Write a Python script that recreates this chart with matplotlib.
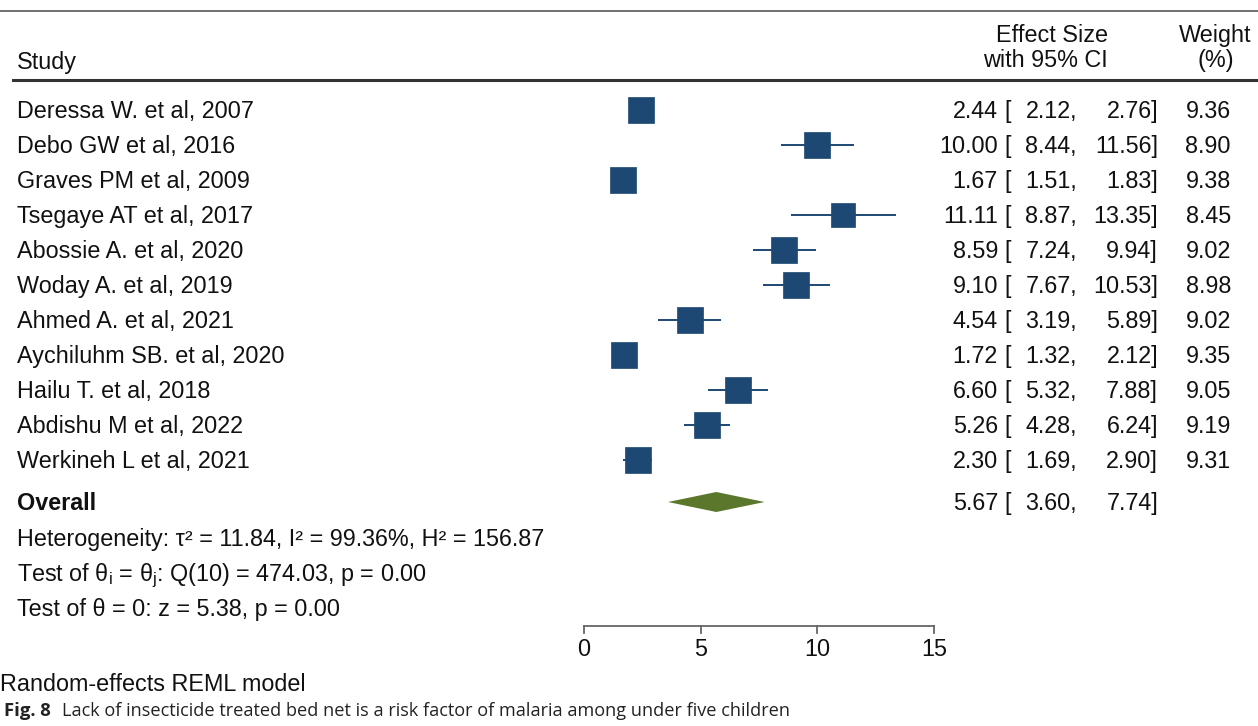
import matplotlib.pyplot as plt
import matplotlib.transforms as mtransforms
import numpy as np

plt.rcParams['font.family'] = ['Liberation Sans', 'DejaVu Sans']
plt.rcParams['mathtext.fontset'] = 'custom'
plt.rcParams['mathtext.rm'] = 'Liberation Sans'
plt.rcParams['mathtext.it'] = 'Liberation Sans'

# ---- datos del meta-análisis ----
estudios = ["Deressa W. et al, 2007", "Debo GW et al, 2016", "Graves PM et al, 2009",
            "Tsegaye AT et al, 2017", "Abossie A. et al, 2020", "Woday A. et al, 2019",
            "Ahmed A. et al, 2021", "Aychiluhm SB. et al, 2020", "Hailu T. et al, 2018",
            "Abdishu M et al, 2022", "Werkineh L et al, 2021"]
efecto = [2.44, 10.00, 1.67, 11.11, 8.59, 9.10, 4.54, 1.72, 6.60, 5.26, 2.30]
li = [2.12, 8.44, 1.51, 8.87, 7.24, 7.67, 3.19, 1.32, 5.32, 4.28, 1.69]
ls = [2.76, 11.56, 1.83, 13.35, 9.94, 10.53, 5.89, 2.12, 7.88, 6.24, 2.90]
peso = [9.36, 8.90, 9.38, 8.45, 9.02, 8.98, 9.02, 9.35, 9.05, 9.19, 9.31]
global_ef, global_li, global_ls = 5.67, 3.60, 7.74
ticks_x = [0, 5, 10, 15]

AZUL = '#1d4873'
VERDE = '#5a772b'
TXT = '#111111'
W, H = 1258, 726
FS = 16.8

fig = plt.figure(figsize=(W / 100, H / 100), dpi=100)
ax = fig.add_axes([0, 0, 1, 1])
ax.axis('off')
# escala: 0 -> px 584, 15 -> px 934 ; filas cada 35 px desde y=110
ppu = (934 - 584) / 15
ax.set_xlim(-584 / ppu, (W - 584) / ppu)
ax.set_ylim((H - 110) / 35, -110 / 35)


def fy(py):
    return (py - 110) / 35


tr = mtransforms.blended_transform_factory(ax.transAxes, ax.transData)


def txt(px, py, s, ha='left', **kw):
    kw.setdefault('fontsize', FS)
    kw.setdefault('color', TXT)
    ax.text(px / W, fy(py) + 8 / 35, s, ha=ha, va='baseline', transform=tr, **kw)


# lineas del encabezado
ax.plot([0, 1], [fy(11), fy(11)], transform=tr, color='#666666', lw=1.3, clip_on=False)
ax.plot([13 / W, 1], [fy(80), fy(80)], transform=tr, color='#333333', lw=2.2, clip_on=False)

txt(17, 61, "Study")
txt(1052, 34, "Effect Size", ha='center')
txt(1045, 59, "with 95% CI", ha='center')
txt(1215, 34, "Weight", ha='center')
txt(1216, 59, "(%)", ha='center')

# estudios
for i, nombre in enumerate(estudios):
    ax.plot([li[i], ls[i]], [i, i], color=AZUL, lw=1.4, solid_capstyle='butt')
    lado = 18.5 * np.sqrt(peso[i] / max(peso))
    ax.plot(efecto[i], i, marker='s', markersize=lado, color=AZUL, mec=AZUL, mew=0.5)
    py = 110 + 35 * i
    txt(17, py, nombre)
    txt(998, py, f"{efecto[i]:.2f}", ha='right')
    txt(1004, py, "[")
    txt(1077, py, f"{li[i]:.2f},", ha='right')
    txt(1158, py, f"{ls[i]:.2f}]", ha='right')
    txt(1231, py, f"{peso[i]:.2f}", ha='right')

# efecto global (diamante)
yo = fy(502)
dh = 10 / 35
ax.fill([global_li, global_ef, global_ls, global_ef],
        [yo, yo - dh, yo, yo + dh], color=VERDE, lw=0)
txt(17, 502, "Overall", fontweight='bold')
txt(998, 502, f"{global_ef:.2f}", ha='right')
txt(1004, 502, "[")
txt(1077, 502, f"{global_li:.2f},", ha='right')
txt(1158, 502, f"{global_ls:.2f}]", ha='right')

txt(17, 538, "Heterogeneity: τ² = 11.84, I² = 99.36%, H² = 156.87")
txt(17, 573, r"Test of $\mathrm{θ}_{\mathrm{i}}$ = $\mathrm{θ}_{\mathrm{j}}$: Q(10) = 474.03, p = 0.00")
txt(17, 608, "Test of θ = 0: z = 5.38, p = 0.00")

# eje x
ya = fy(626)
ax.plot([ticks_x[0], ticks_x[-1]], [ya, ya], color='#666666', lw=1.3)
for t in ticks_x:
    ax.plot([t, t], [ya, ya + 7 / 35], color='#666666', lw=1.3)
    ax.text(t, fy(648) + 8 / 35, str(t), ha='center', va='baseline', fontsize=FS, color=TXT)

txt(0, 683, "Random-effects REML model")

# pie de figura
ax.text(4 / W, fy(710) + 6 / 35, "Fig. 8", transform=tr, fontsize=13.3, fontweight='bold',
        family='Open Sans', color='#222222', ha='left', va='baseline')
ax.text(62 / W, fy(710) + 6 / 35, "Lack of insecticide treated bed net is a risk factor of malaria among under five children",
        transform=tr, fontsize=13.1, family='Open Sans', color='#222222', ha='left', va='baseline')

fig.savefig("out.png", dpi=100)
